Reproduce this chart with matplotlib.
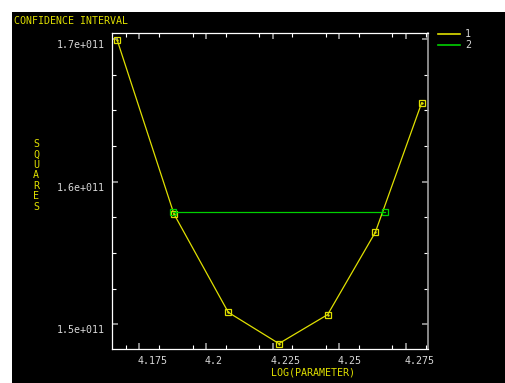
import numpy as np
import matplotlib
matplotlib.use("Agg")
import matplotlib.pyplot as plt
import matplotlib.transforms as mtransforms
from matplotlib.lines import Line2D
from matplotlib.patches import Rectangle
from matplotlib.ticker import MultipleLocator, FixedLocator

# series 1: sum of squares vs log(parameter)
log_param = [4.1667, 4.1880, 4.2084, 4.2274, 4.2457, 4.2636, 4.2810]
squares = [1.6992e11, 1.5774e11, 1.5085e11, 1.4866e11, 1.5069e11, 1.5646e11, 1.6553e11]

# series 2: confidence interval level
ci_x = [4.1878, 4.2672]
ci_y = [1.5791e11, 1.5791e11]

x_ticks = [4.175, 4.2, 4.225, 4.25, 4.275]
x_tick_labels = ["4.175", "4.2", "4.225", "4.25", "4.275"]
y_ticks = [1.5e11, 1.6e11, 1.7e11]
y_tick_labels = ["1.5e+011", "1.6e+011", "1.7e+011"]
legend_labels = ["1", "2"]

YELLOW = "#e0e000"
GREEN = "#00d000"
GREY = "#d8d8d8"
FONT = "DejaVu Sans Mono"
FS = 7.2

W, H = 506, 383
fig = plt.figure(figsize=(W / 100, H / 100), dpi=100, facecolor="black")
# white strips along the top and the left edge
for rect in [(0, 1 - 12 / H, 1, 12 / H), (0, 0, 12 / W, 1)]:
    fig.patches.append(Rectangle(rect[:2], rect[2], rect[3],
                                 transform=fig.transFigure, facecolor="white",
                                 edgecolor="none", zorder=-10))

ax = fig.add_axes([112 / W, (H - 349) / H, 316 / W, 316 / H])
ax.set_facecolor("black")

ax.plot(log_param, squares, color=YELLOW, lw=0.9, marker="s", ms=4.3,
        mfc="none", mec=YELLOW, mew=0.9, zorder=3)
ax.plot(log_param, squares, ls="none", marker=".", ms=1.5, color=YELLOW, zorder=4)
ax.plot(ci_x, ci_y, color=GREEN, lw=0.9, marker="s", ms=4.3,
        mfc="none", mec=GREEN, mew=0.9, zorder=5)

ax.set_xlim(4.16475, 4.28337)
ax.set_ylim(1.4828e11, 1.7042e11)

ax.xaxis.set_major_locator(FixedLocator(x_ticks))
ax.xaxis.set_minor_locator(FixedLocator(np.arange(4.17, 4.285, 0.0125)))
ax.yaxis.set_major_locator(FixedLocator(y_ticks))
ax.yaxis.set_minor_locator(MultipleLocator(0.025e11))
ax.set_xticklabels(x_tick_labels)
ax.set_yticklabels(y_tick_labels)

ax.tick_params(which="both", direction="in", top=True, right=True,
               labelcolor=GREY, labelsize=FS)
ax.tick_params(which="major", length=4, width=1.2, color="#a0a0a0")
ax.tick_params(which="minor", length=3, width=0.8, color="white")
ax.tick_params(axis="x", pad=5)
ax.tick_params(axis="y", pad=5)

for lab in ax.get_xticklabels():
    lab.set_fontfamily(FONT)
    lab.set_horizontalalignment("left")
    lab.set_transform(lab.get_transform() +
                      mtransforms.ScaledTranslation(-0.015, 0, fig.dpi_scale_trans))
for lab in ax.get_yticklabels():
    lab.set_fontfamily(FONT)
    lab.set_transform(lab.get_transform() +
                      mtransforms.ScaledTranslation(0, -0.05, fig.dpi_scale_trans))

for side in ["top", "left", "bottom"]:
    ax.spines[side].set_color("white")
    ax.spines[side].set_linewidth(0.9)
ax.spines["right"].set_color("#a0a0a0")
ax.spines["right"].set_linewidth(1.2)

handles = [Line2D([], [], color=YELLOW, lw=1.2), Line2D([], [], color=GREEN, lw=1.2)]
leg = fig.legend(handles, legend_labels, loc="upper left",
                 bbox_to_anchor=(429 / W, 1 - 20 / H), frameon=False,
                 handlelength=2.2, handletextpad=0.5, labelspacing=0.15,
                 prop={"family": FONT, "size": FS})
for t in leg.get_texts():
    t.set_color(GREY)

fig.text(14 / W, 1 - 21 / H, "CONFIDENCE INTERVAL", color=YELLOW,
         family=FONT, fontsize=FS, ha="left", va="center")
fig.text(36 / W, 1 - 175.5 / H, "\n".join("SQUARES"), color=YELLOW,
         family=FONT, fontsize=FS, ha="center", va="center", linespacing=1.05)
fig.text(312.7 / W, 1 - 372.7 / H, "LOG(PARAMETER)", color=YELLOW,
         family=FONT, fontsize=FS, ha="center", va="center")

fig.savefig("out.png", dpi=100, facecolor="black")
